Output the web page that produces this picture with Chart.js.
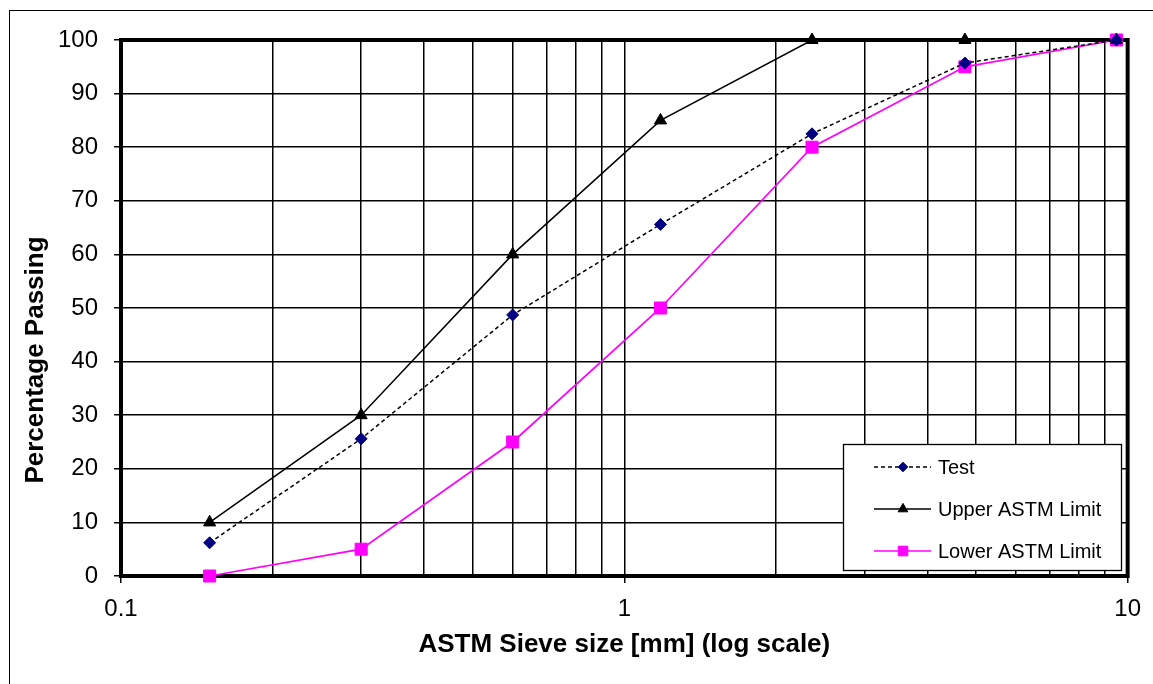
<!DOCTYPE html>
<html>
<head>
<meta charset="utf-8">
<script src="https://cdn.jsdelivr.net/npm/chart.js@4.4.3/dist/chart.umd.min.js"></script>
<style>
  html, body { margin: 0; padding: 0; background: #fff; }
  #wrap { width: 1153px; height: 684px; }
</style>
</head>
<body>
<div id="wrap"><canvas id="chart" width="1153" height="684"></canvas></div>
<script>
// sieve sizes in mm
const sieveSizes = [0.15, 0.3, 0.6, 1.18, 2.36, 4.75, 9.5];
const testPassing = [6.2, 25.6, 48.7, 65.6, 82.5, 95.7, 100];
const upperLimit = [10, 30, 60, 85, 100, 100, 100];
const lowerLimit = [0, 5, 25, 50, 80, 95, 100];

const xGridValues = [0.1, 0.2, 0.3, 0.4, 0.5, 0.6, 0.7, 0.8, 0.9, 1, 2, 3, 4, 5, 6, 7, 8, 9, 10];
const xLabelValues = [0.1, 1, 10];
const seriesNames = ["Test", "Upper ASTM Limit", "Lower ASTM Limit"];

const FONT = "'Liberation Sans', Arial, sans-serif";

const toPoints = (vals) => sieveSizes.map((x, i) => ({ x: x, y: vals[i] }));

// outer box + thick plot frame
const framePlugin = {
  id: "frame",
  beforeDraw(chart) {
    const ctx = chart.ctx;
    ctx.save();
    ctx.strokeStyle = "#000";
    ctx.lineWidth = 1;
    ctx.strokeRect(9.5, 10.5, 2000, 2000);
    ctx.restore();
  },
  beforeDatasetsDraw(chart) {
    const { ctx, chartArea: a } = chart;
    ctx.save();
    ctx.strokeStyle = "#000";
    ctx.lineWidth = 4;
    ctx.strokeRect(a.left, a.top, a.right - a.left, a.bottom - a.top);
    ctx.restore();
  },
  afterDraw(chart) {
    const ctx = chart.ctx;
    ctx.save();
    ctx.translate(36, 360);
    ctx.rotate(-Math.PI / 2);
    ctx.font = "bold 26px " + FONT;
    ctx.fillStyle = "#000";
    ctx.textAlign = "center";
    ctx.textBaseline = "middle";
    ctx.fillText("Percentage Passing", 0, 0);
    ctx.restore();
  }
};

// legend box drawn inside the plot, like the Excel one
const boxLegend = {
  id: "boxLegend",
  afterDraw(chart) {
    const ctx = chart.ctx;
    const box = { x: 843.5, y: 444.5, w: 278, h: 126 };
    ctx.save();
    ctx.fillStyle = "#fff";
    ctx.fillRect(box.x, box.y, box.w, box.h);
    ctx.strokeStyle = "#000";
    ctx.lineWidth = 1.3;
    ctx.strokeRect(box.x, box.y, box.w, box.h);
    ctx.font = "20px " + FONT;
    ctx.textBaseline = "middle";
    chart.data.datasets.forEach((ds, i) => {
      const y = 467 + i * 42;
      ctx.strokeStyle = ds.borderColor;
      ctx.lineWidth = ds.borderWidth;
      ctx.setLineDash(ds.borderDash || []);
      ctx.beginPath();
      ctx.moveTo(874, y);
      ctx.lineTo(931, y);
      ctx.stroke();
      ctx.setLineDash([]);
      ctx.fillStyle = ds.pointBackgroundColor;
      ctx.strokeStyle = ds.pointBorderColor;
      ctx.lineWidth = 1;
      Chart.helpers.drawPoint(ctx, { pointStyle: ds.pointStyle, radius: ds.pointRadius * 0.8, rotation: 0, borderWidth: 1 }, 903, y);
      ctx.fillStyle = "#000";
      ctx.fillText(ds.label, 938, y + 1);
    });
    ctx.restore();
  }
};

new Chart(document.getElementById("chart"), {
  type: "line",
  data: {
    datasets: [
      {
        label: seriesNames[0],
        data: toPoints(testPassing),
        borderColor: "#000",
        borderWidth: 1.5,
        borderDash: [4, 3],
        pointStyle: "rectRot",
        pointRadius: 6,
        pointBorderWidth: 1,
        pointBackgroundColor: "#000080",
        pointBorderColor: "#000080",
        clip: false
      },
      {
        label: seriesNames[1],
        data: toPoints(upperLimit),
        borderColor: "#000",
        borderWidth: 1.5,
        pointStyle: "triangle",
        pointRadius: 7,
        pointBorderWidth: 1,
        pointBackgroundColor: "#000",
        pointBorderColor: "#000",
        clip: false
      },
      {
        label: seriesNames[2],
        data: toPoints(lowerLimit),
        borderColor: "#ff00ff",
        borderWidth: 1.7,
        pointStyle: "rect",
        pointRadius: 8.5,
        pointBorderWidth: 1,
        pointBackgroundColor: "#ff00ff",
        pointBorderColor: "#ff00ff",
        clip: false
      }
    ]
  },
  options: {
    responsive: false,
    animation: false,
    layout: { padding: { top: 40, right: 25, left: 0, bottom: 0 } },
    plugins: { legend: { display: false }, tooltip: { enabled: false } },
    elements: { line: { tension: 0 } },
    scales: {
      x: {
        type: "logarithmic",
        min: 0.1,
        max: 10,
        afterBuildTicks(scale) {
          scale.ticks = xGridValues.map(v => ({ value: v }));
        },
        afterFit(scale) { scale.height = 108; },
        border: { display: false },
        grid: {
          color: "#000",
          lineWidth: 1.5,
          tickLength: 7,
          tickColor: (c) => (c.tick && xLabelValues.includes(c.tick.value) ? "#000" : "rgba(0,0,0,0)")
        },
        ticks: {
          autoSkip: false,
          maxRotation: 0,
          padding: 12,
          color: "#000",
          font: { family: FONT, size: 24 },
          callback: (v) => (xLabelValues.includes(v) ? String(v) : "")
        },
        title: {
          display: true,
          text: "ASTM Sieve size [mm] (log scale)",
          color: "#000",
          font: { family: FONT, size: 26, weight: "bold" },
          padding: { top: 0, bottom: 24 }
        }
      },
      y: {
        min: 0,
        max: 100,
        afterFit(scale) { scale.width = 121; },
        border: { display: false },
        grid: { color: "#000", lineWidth: 1.5, tickLength: 7, tickColor: "#000" },
        ticks: {
          stepSize: 10,
          padding: 16,
          color: "#000",
          font: { family: FONT, size: 24 }
        }
      }
    }
  },
  plugins: [framePlugin, boxLegend]
});
</script>
</body>
</html>
